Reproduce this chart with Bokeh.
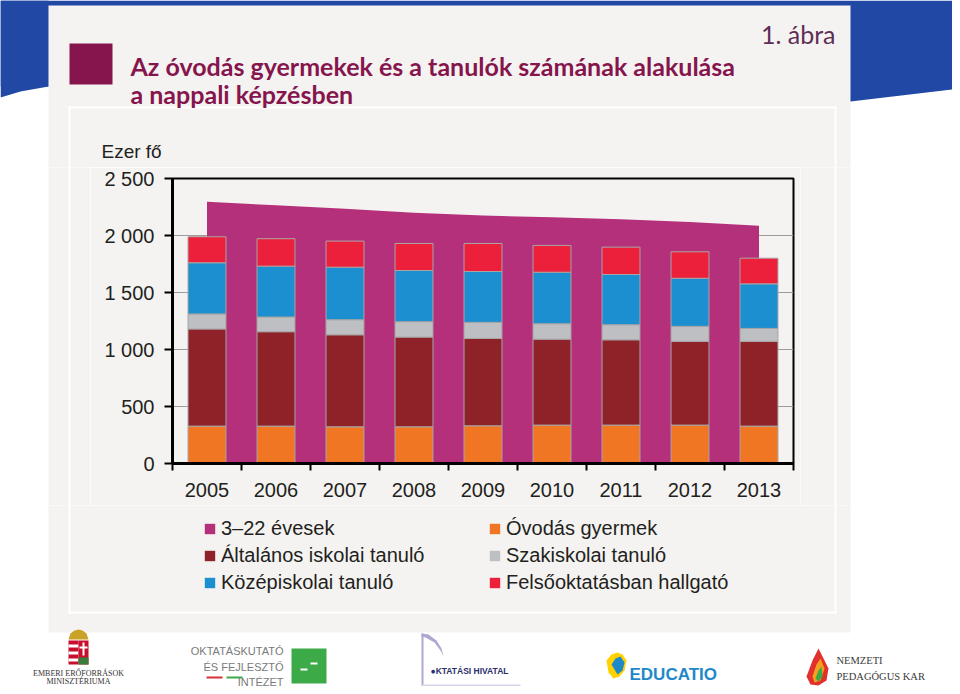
from bokeh.plotting import figure
from bokeh.layouts import column, row
from bokeh.models import (ColumnDataSource, Range1d, FixedTicker, Label, Legend, LegendItem)
from bokeh.embed import file_html
from bokeh.resources import INLINE

# ---------------- data (thousand persons) ----------------
years = ["2005", "2006", "2007", "2008", "2009", "2010", "2011", "2012", "2013"]
pop_3_22 = [2297, 2265, 2235, 2200, 2175, 2160, 2142, 2118, 2085]
ovodas = [328, 328, 322, 322, 331, 337, 337, 337, 328]
altalanos = [852, 828, 807, 787, 766, 754, 748, 734, 743]
szakiskolai = [132, 129, 132, 135, 141, 135, 132, 132, 114]
kozepiskolai = [449, 446, 461, 449, 446, 452, 441, 422, 391]
felsooktatas = [228, 241, 229, 237, 246, 235, 240, 232, 225]

y_tick_values = [0, 500, 1000, 1500, 2000, 2500]
y_tick_labels = ["0", "500", "1 000", "1 500", "2 000", "2 500"]

series_names = ["Óvodás gyermek", "Általános iskolai tanuló", "Szakiskolai tanuló",
                "Középiskolai tanuló", "Felsőoktatásban hallgató"]
area_name = "3–22 évesek"

# ---------------- styles ----------------
C_AREA = "#B5307A"
C_OVODA = "#F07624"
C_ALT = "#8E2228"
C_SZAK = "#BEBFC3"
C_KOZEP = "#1C8FD0"
C_FELSO = "#EC203A"
SERIES_COLORS = [C_OVODA, C_ALT, C_SZAK, C_KOZEP, C_FELSO]
BLUE = "#2148A5"
PANEL = "#F4F3F1"
MAROON = "#86154D"
TXT = "#231F20"
FONT = "Liberation Sans"
TITLE_FONT = "Lato"

TOTAL_W, TOTAL_H = 952, 686
Y_TOP_END, Y_MID_END = 167, 505          # tile boundaries (page px)
X_LEFT_END, X_CHART_END = 90, 800


def deco(x0, x1, y0, y1):
    f = figure(width=x1 - x0, height=y1 - y0, output_backend="svg", toolbar_location=None,
               x_range=Range1d(x0, x1), y_range=Range1d(y1, y0), min_border=0,
               x_axis_type=None, y_axis_type=None, outline_line_color=None,
               background_fill_color="white", border_fill_color="white",
               frame_align=False)
    return f


def rect(f, l, t, r, b, color):
    f.quad(left=[l], right=[r], top=[t], bottom=[b], fill_color=color, line_color=None)


def poly(f, xl, yl, color):
    f.patch(x=xl, y=yl, fill_color=color, line_color=None)


def label(f, x, y, text, size, color=TXT, font=FONT, style="normal", align="left"):
    f.add_layout(Label(x=x, y=y, text=text, text_font_size=f"{size}px", text_color=color,
                       text_font=font, text_font_style=style, text_align=align,
                       text_baseline="alphabetic"))


def panel_bg(f):
    # slide panel and inner white-bordered chart box
    rect(f, 48, 5, 850, 632, PANEL)
    rect(f, 68, 106, 836, 108, "white")
    rect(f, 68, 106, 70, 613, "white")
    rect(f, 834, 106, 836, 613, "white")
    rect(f, 68, 611, 836, 613, "white")


# ---------------- top tile ----------------
T = deco(0, TOTAL_W, 0, Y_TOP_END)
poly(T, [0, 0, 20, 48, 850, 960, 960], [0, 97, 91, 86, 101, 88, 0], BLUE)
rect(T, 0, 0, 48, 86, BLUE)
panel_bg(T)
rect(T, 69, 43, 112, 84, MAROON)
label(T, 835, 33, "1. ábra", 25, color="#5E2E57", font=TITLE_FONT, align="right")
label(T, 130, 65, "Az óvodás gyermekek és a tanulók számának alakulása", 25,
      color=MAROON, font=TITLE_FONT, style="bold")
label(T, 130, 93, "a nappali képzésben", 25, color=MAROON, font=TITLE_FONT, style="bold")
label(T, 101, 151, "Ezer fő", 19)

# ---------------- side tiles ----------------
L = deco(0, X_LEFT_END, Y_TOP_END, Y_MID_END)
panel_bg(L)
R = deco(X_CHART_END, TOTAL_W, Y_TOP_END, Y_MID_END)
panel_bg(R)

# ---------------- chart tile ----------------
FRAME_L, FRAME_R, FRAME_T, FRAME_B = 172, 793, 178, 463
xs = list(range(len(years)))
C = figure(width=X_CHART_END - X_LEFT_END, height=Y_MID_END - Y_TOP_END,
           output_backend="svg", toolbar_location=None,
           x_range=Range1d(-0.5, len(years) - 0.5), y_range=Range1d(0, 2500),
           min_border_left=FRAME_L - X_LEFT_END, min_border_right=X_CHART_END - FRAME_R,
           min_border_top=FRAME_T - Y_TOP_END, min_border_bottom=Y_MID_END - FRAME_B,
           background_fill_color=PANEL, border_fill_color=PANEL,
           outline_line_color="black", outline_line_width=2, frame_align=False)

area = C.varea(x=xs, y1=[0] * len(xs), y2=pop_3_22, fill_color=C_AREA)
src = ColumnDataSource(dict(x=xs, ovodas=ovodas, altalanos=altalanos, szakiskolai=szakiskolai,
                            kozepiskolai=kozepiskolai, felsooktatas=felsooktatas))
bars = C.vbar_stack(["ovodas", "altalanos", "szakiskolai", "kozepiskolai", "felsooktatas"],
                    x="x", width=0.55, source=src, fill_color=SERIES_COLORS,
                    line_color="#A9A5A6", line_width=1)

C.xgrid.grid_line_color = None
C.ygrid.grid_line_color = "#9C9C9C"
C.ygrid.grid_line_width = 1
C.ygrid.ticker = FixedTicker(ticks=y_tick_values)

ya = C.yaxis[0]
ya.ticker = FixedTicker(ticks=y_tick_values)
ya.major_label_overrides = {v: s for v, s in zip(y_tick_values, y_tick_labels)}
ya.axis_line_width = 3
ya.axis_line_color = "black"
ya.major_tick_out = 8
ya.major_tick_in = 0
ya.major_tick_line_width = 2
ya.minor_tick_line_color = None
ya.major_label_standoff = 10
ya.major_label_text_font = FONT
ya.major_label_text_font_size = "20px"
ya.major_label_text_color = TXT

xa = C.xaxis[0]
xa.ticker = FixedTicker(ticks=xs, minor_ticks=[i - 0.5 for i in range(len(years) + 1)])
xa.major_label_overrides = {i: y for i, y in zip(xs, years)}
xa.axis_line_width = 3
xa.axis_line_color = "black"
xa.major_tick_line_color = None
xa.major_tick_out = 0
xa.major_tick_in = 0
xa.minor_tick_line_color = "black"
xa.minor_tick_line_width = 2
xa.minor_tick_out = 7
xa.minor_tick_in = 0
xa.major_label_standoff = 12
xa.major_label_text_font = FONT
xa.major_label_text_font_size = "20px"
xa.major_label_text_color = TXT

# ---------------- bottom tile: legend + logos ----------------
B = deco(0, TOTAL_W, Y_MID_END, TOTAL_H)
panel_bg(B)

# legend swatches: renderers carrying the series colours (drawn off-canvas)
leg_r = {}
for name, color in [(area_name, C_AREA)] + list(zip(series_names, SERIES_COLORS)):
    leg_r[name] = B.quad(left=[-50], right=[-40], top=[-50], bottom=[-40],
                         fill_color=color, line_color=None)

LEG_H = 77


def make_legend(names, x, ytop):
    lg = Legend(items=[LegendItem(label=n, renderers=[leg_r[n]]) for n in names],
                location=(x, TOTAL_H - (ytop + LEG_H)), orientation="vertical",
                background_fill_alpha=0, border_line_color=None, padding=0, margin=0,
                glyph_width=13, glyph_height=13, label_standoff=5, spacing=4,
                label_height=20, label_text_font=FONT, label_text_font_size="20px",
                label_text_color=TXT)
    B.add_layout(lg)


make_legend([area_name, series_names[1], series_names[3]], 203, 517)
make_legend([series_names[0], series_names[2], series_names[4]], 488, 517)

# coat of arms (simplified)
poly(B, [68, 70, 74, 78, 82, 86, 88], [639, 633, 630, 629, 630, 633, 639], "#C9A227")
rect(B, 68, 640, 78, 664, "#C8102E")
for k in range(3):
    rect(B, 68, 644 + 7 * k, 78, 647 + 7 * k, "white")
rect(B, 78, 640, 88, 664, "#C8102E")
rect(B, 82, 642, 84, 655, "white")
rect(B, 79, 646, 87, 648, "white")
rect(B, 78, 657, 88, 664, "#3A7D3A")
label(B, 78, 673, "EMBERI ERŐFORRÁSOK", 8, color="#333", font="Liberation Serif", align="center")
label(B, 78, 681, "MINISZTÉRIUMA", 8, color="#333", font="Liberation Serif", align="center")
# OFI
label(B, 283, 650, "OKTATÁSKUTATÓ", 11, color="#7A7A7A", font=FONT, align="right")
label(B, 283, 666, "ÉS FEJLESZTŐ", 11, color="#7A7A7A", font=FONT, align="right")
label(B, 283, 681, "INTÉZET", 11, color="#7A7A7A", font=FONT, align="right")
rect(B, 206, 676, 222, 678, "#D6303B")
rect(B, 226, 676, 242, 678, "#3DAA48")
rect(B, 291, 648, 326, 683, "#3DAA48")
rect(B, 300, 668, 307, 670, "white")
rect(B, 310, 662, 317, 664, "white")
# Oktatási Hivatal
poly(B, [421, 428, 436, 441, 443, 440, 434, 425, 421], [633, 634, 640, 648, 656, 650, 642, 637, 636], "#AFA6D2")
rect(B, 421, 633, 423, 686, "#AFA6D2")
rect(B, 421, 684, 520, 686, "#D8D4EA")
label(B, 430, 670, "●KTATÁSI HIVATAL", 8.5, color="#2B2F6B", style="bold")
# Educatio
poly(B, [606, 611, 617, 622, 626, 624, 619, 613, 608], [660, 654, 652, 654, 660, 670, 676, 678, 672], "#FFD200")
poly(B, [611, 615, 620, 624, 622, 617], [664, 658, 656, 662, 670, 674], "#1E88C8")
label(B, 629, 674, "EDUCATIO", 17, color="#1E88C8", style="bold")
# Nemzeti Pedagógus Kar
poly(B, [806, 812, 818, 822, 828, 826, 818, 810], [676, 660, 648, 656, 668, 680, 685, 684], "#E2312C")
poly(B, [812, 816, 820, 824, 820, 814], [676, 664, 658, 668, 680, 682], "#F4A020")
poly(B, [815, 818, 821, 822, 818], [678, 670, 666, 676, 681], "#3DAA48")
label(B, 836, 660, "NEMZETI", 10.5, color="#3A3A3A", font="Liberation Serif")
label(B, 836, 676, "PEDAGÓGUS KAR", 10.5, color="#3A3A3A", font="Liberation Serif")

layout = column(T, row(L, C, R), B)
open("out.html", "w").write(file_html(layout, INLINE))
